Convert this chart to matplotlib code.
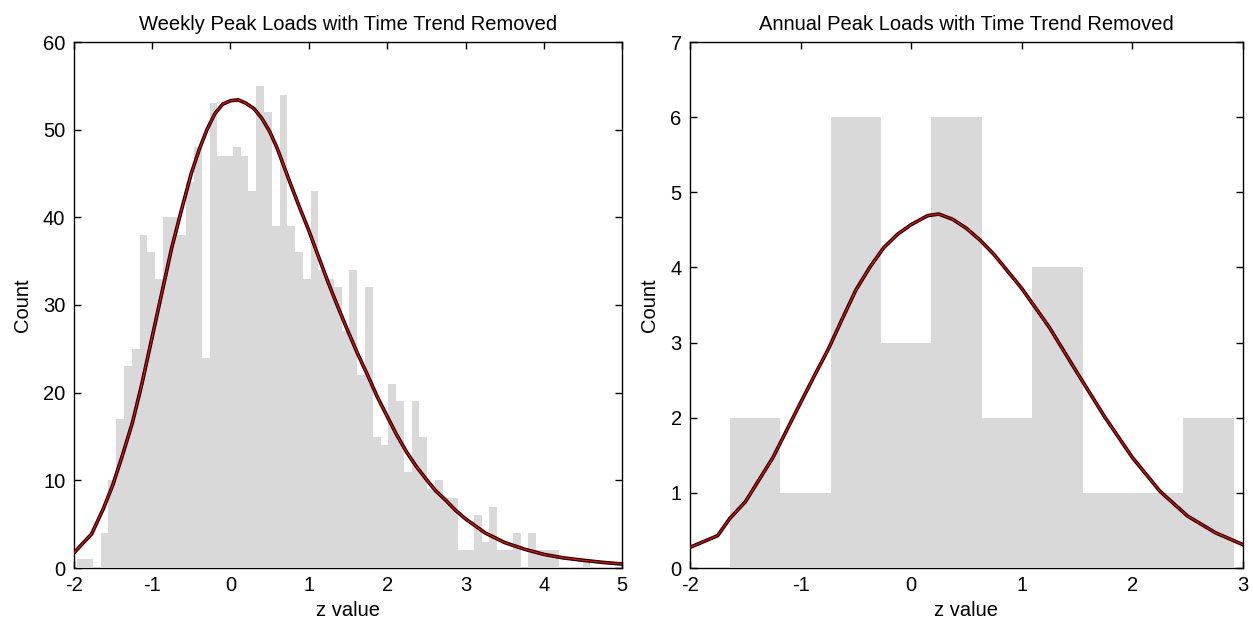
import numpy as np
import matplotlib.pyplot as plt

plt.rcParams['font.family'] = ['Liberation Sans', 'DejaVu Sans']
plt.rcParams['axes.unicode_minus'] = False

# Weekly peak loads: histogram counts (bins of equal width)
weekly_start = -1.953
weekly_width = 0.0992
weekly_counts = [1, 1, 0, 4, 10, 17, 23, 25, 38, 36,
                 33, 40, 40, 38, 44, 48, 24, 53, 47, 47,
                 48, 47, 43, 55, 52, 39, 54, 39, 36, 33,
                 43, 34, 33, 32, 27, 34, 22, 32, 15, 14,
                 21, 19, 11, 19, 15, 9, 10, 8, 8, 2,
                 2, 6, 3, 7, 2, 2, 4, 0, 4, 2,
                 2, 2, 0, 0, 0, 1, 0, 0, 0]

# fitted curve
weekly_fit_x = [-2.0, -1.77, -1.62, -1.5, -1.38, -1.25, -1.13, -1.0, -0.87, -0.75,
                -0.62, -0.5, -0.4, -0.3, -0.2, -0.1, 0.0, 0.1, 0.2, 0.3,
                0.4, 0.5, 0.6, 0.75, 0.87, 1.0, 1.12, 1.25, 1.37, 1.5,
                1.62, 1.75, 1.87, 2.0, 2.12, 2.25, 2.37, 2.5, 2.62, 2.75,
                2.87, 3.0, 3.25, 3.5, 3.75, 4.0, 4.25, 4.5, 4.75, 5.0]
weekly_fit_y = [1.7, 3.9, 6.8, 9.5, 12.8, 16.6, 21.0, 26.3, 31.6, 36.5,
                41.0, 45.0, 47.7, 50.0, 51.8, 52.9, 53.3, 53.4, 53.0, 52.4,
                51.3, 49.8, 47.8, 44.2, 41.4, 38.5, 35.6, 32.5, 29.8, 27.0,
                24.5, 22.0, 19.6, 17.3, 15.2, 13.2, 11.6, 10.1, 8.8, 7.7,
                6.6, 5.6, 4.0, 2.9, 2.15, 1.55, 1.15, 0.88, 0.64, 0.45]

# Annual peak loads
annual_start = -1.640
annual_width = 0.4557
annual_counts = [2, 1, 6, 3, 6, 2, 4, 1, 1, 2]

annual_fit_x = [-2.0, -1.75, -1.64, -1.5, -1.25, -1.0, -0.875, -0.75, -0.625, -0.5,
                -0.375, -0.25, -0.125, 0.0, 0.15, 0.25, 0.375, 0.5, 0.625, 0.75,
                1.0, 1.25, 1.5, 1.75, 2.0, 2.25, 2.5, 2.75, 3.0]
annual_fit_y = [0.275, 0.43, 0.66, 0.88, 1.47, 2.20, 2.56, 2.91, 3.31, 3.70,
                4.0, 4.26, 4.44, 4.57, 4.69, 4.71, 4.64, 4.52, 4.36, 4.17,
                3.72, 3.20, 2.60, 2.01, 1.47, 1.02, 0.69, 0.47, 0.31]

BAR = '#d9d9d9'
FS = 14.5


def draw(ax, start, width, counts, fx, fy, title, xlim, ylim):
    edges = start + width * np.arange(len(counts))
    ax.bar(edges, counts, width=width, align='edge', color=BAR,
           linewidth=0, zorder=3)
    ax.plot(fx, fy, color='black', lw=2.6, zorder=4, solid_joinstyle='round')
    ax.plot(fx, fy, color='red', lw=1.0, zorder=5, solid_joinstyle='round')
    ax.set_xlim(*xlim)
    ax.set_ylim(*ylim)
    ax.set_title(title, fontsize=FS, pad=9)
    ax.set_xlabel('z value', fontsize=FS, labelpad=4)
    ax.set_ylabel('Count', fontsize=FS, labelpad=8)
    ax.tick_params(direction='in', top=True, right=True, length=5, width=1,
                   labelsize=FS, pad=6)
    for s in ax.spines.values():
        s.set_linewidth(1)


fig = plt.figure(figsize=(12.53, 6.26), dpi=100)
W, H = 1253, 626
ax1 = fig.add_axes([73.7 / W, 1 - 568 / H, 548.6 / W, 526 / H])
ax2 = fig.add_axes([690 / W, 1 - 568 / H, 553 / W, 526 / H])

draw(ax1, weekly_start, weekly_width, weekly_counts, weekly_fit_x, weekly_fit_y,
     'Weekly Peak Loads with Time Trend Removed', (-2, 5), (0, 60))
ax1.set_yticks(np.arange(0, 61, 10))

draw(ax2, annual_start, annual_width, annual_counts, annual_fit_x, annual_fit_y,
     'Annual Peak Loads with Time Trend Removed', (-2, 3), (0, 7))
ax2.set_yticks(np.arange(0, 8, 1))

fig.savefig('out.png', dpi=100)
